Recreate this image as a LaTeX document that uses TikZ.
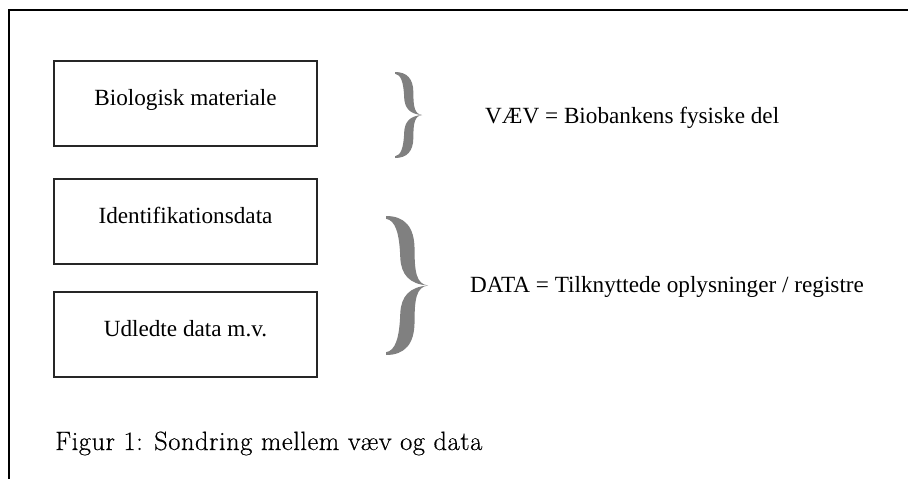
\documentclass[tikz,border=0pt]{standalone}
\usepackage{fontspec}
\newfontfamily\timesfont{Liberation Serif}
\newfontfamily\capfont[LetterSpace=2,FakeBold=0.4]{Latin Modern Roman}
\begin{document}
\begin{tikzpicture}[x=1pt,y=-1pt,
  font=\timesfont\fontsize{23.2}{27}\selectfont,
  frameline/.style={black,line cap=rect},
  itembox/.style={draw=black!85,line width=1.3pt,minimum width=263pt,
    minimum height=85pt,inner sep=0pt,text height=0.7em,text depth=0.25em},
  label/.style={anchor=base west,inner sep=0pt},
  rbrace/.pic={
    % upper arm of the curly brace
    \fill[black!50] (0,0) .. controls (0.45,0.0) and (0.68,0.08) .. (0.68,0.24)
      .. controls (0.68,0.40) and (0.72,0.49) .. (1,0.5)
      .. controls (0.55,0.49) and (0.36,0.42) .. (0.34,0.30)
      .. controls (0.32,0.12) and (0.22,0.03) .. (0,0.02) -- cycle;
    % lower arm of the curly brace
    \fill[black!50] (0,1) .. controls (0.45,1.0) and (0.68,0.92) .. (0.68,0.76)
      .. controls (0.68,0.60) and (0.72,0.51) .. (1,0.5)
      .. controls (0.55,0.51) and (0.36,0.58) .. (0.34,0.70)
      .. controls (0.32,0.88) and (0.22,0.97) .. (0,0.98) -- cycle;
  }]
\useasboundingbox (0,0) rectangle (908,479);
\fill[white] (0,0) rectangle (908,479);

% open frame: top and left edges
\draw[frameline,line width=2.6pt] (9,10) -- (910,10);
\draw[frameline,line width=2.2pt] (9,10) -- (9,481);

% the three boxes
\node[itembox] (bio) at (185.5,103.5)   {Biologisk materiale};
\node[itembox] (ident) at (185.5,221.5) {Identifikationsdata};
\node[itembox] (udl) at (185.5,334.5)  {Udledte data m.v.};

% braces
\pic[xscale=27,yscale=86] at (395,72) {rbrace};
\pic[xscale=42,yscale=139] at (386,216) {rbrace};

% explanations
\node[label] (vaev) at (485,123) {VÆV = Biobankens fysiske del};
\node[label] (data) at (470,292) {DATA = Tilknyttede oplysninger / registre};

% caption
\node[label,font=\capfont\fontsize{26.5}{31}\selectfont] (cap) at (55,450)
  {Figur 1: Sondring mellem væv og data};
\end{tikzpicture}
\end{document}
